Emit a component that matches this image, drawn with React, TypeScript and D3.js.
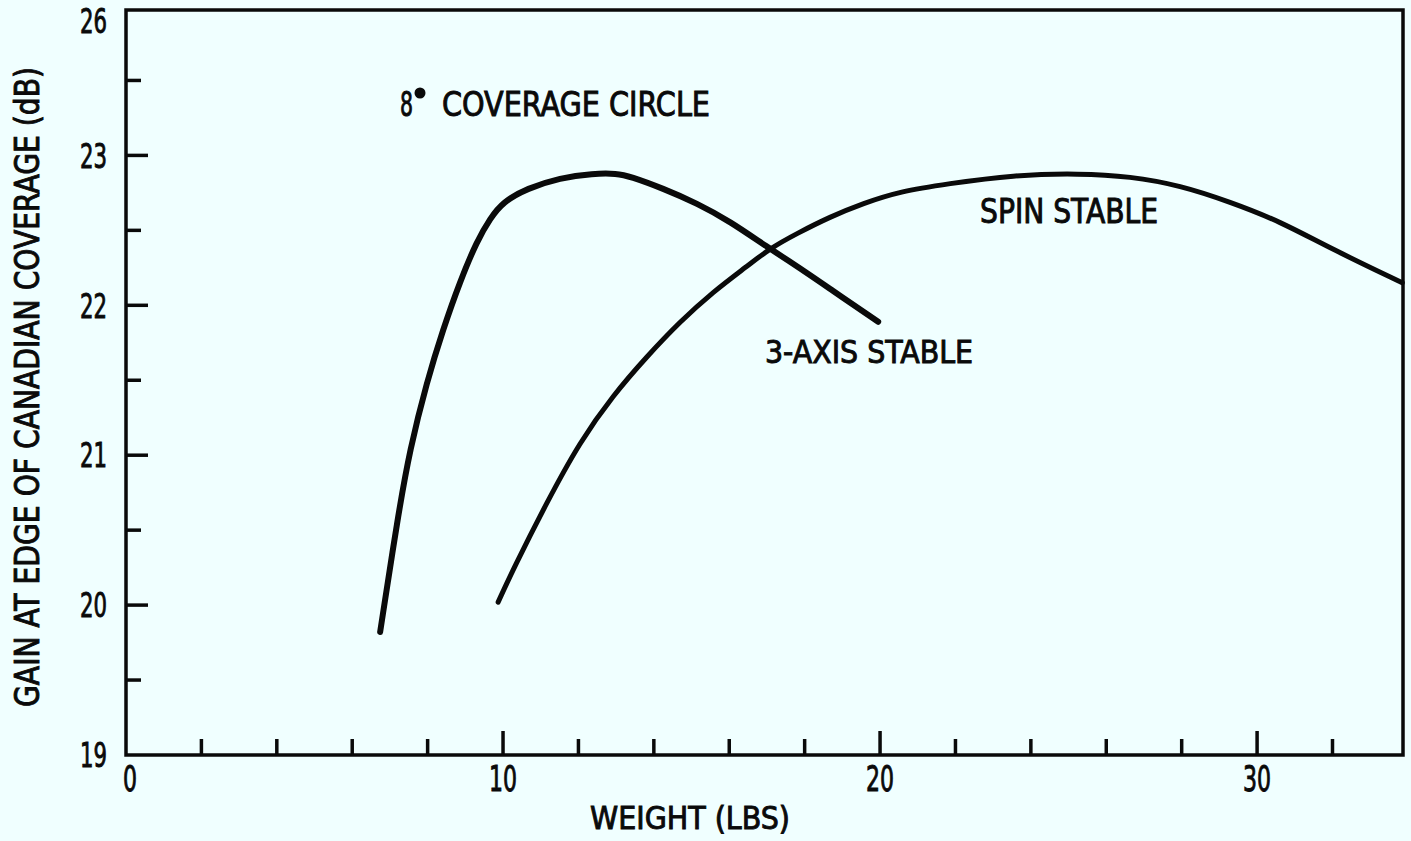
import React from "react";
import * as d3 from "d3";

// ---- data ----
const threeAxisWeight = [6.74, 7.21, 7.53, 7.98, 8.41, 8.86, 9.31, 9.66, 10.0, 10.64, 11.51, 12.39, 13.02, 13.37, 14.24, 15.15, 16.02, 17.0, 17.8, 18.67, 19.95];
const threeAxisGain = [19.82, 20.59, 21.04, 21.49, 21.84, 22.16, 22.43, 22.58, 22.69, 22.78, 22.85, 22.88, 22.88, 22.86, 22.78, 22.68, 22.56, 22.39, 22.26, 22.11, 21.89];

const spinWeight = [9.87, 10.27, 11.17, 12.04, 12.92, 13.82, 14.69, 15.57, 16.47, 17.08, 17.8, 18.67, 19.55, 20.53, 21.78, 23.53, 25.3, 26.63, 27.96, 29.28, 30.61, 31.94, 33.85];
const spinGain = [20.02, 20.24, 20.69, 21.09, 21.4, 21.66, 21.89, 22.09, 22.26, 22.38, 22.48, 22.59, 22.68, 22.76, 22.81, 22.87, 22.88, 22.86, 22.8, 22.69, 22.56, 22.38, 22.15];

const xTickValues = [0, 10, 20, 30];
const xTickLabels = ["0", "10", "20", "30"];
const xMinorTicks = [2, 4, 6, 8, 12, 14, 16, 18, 22, 24, 26, 28, 32];

const yTickValues = [19, 20, 21, 22, 23, 23.9];
const yTickLabels = ["19", "20", "21", "22", "23", "26"];
const yMajorTicks = [20, 21, 22, 23];
const yMinorTicks = [19.5, 20.5, 21.5, 22.5, 23.5];

const X_MAX = 33.87;
const Y_MIN = 19;
const Y_MAX = 23.97;

const W = 1411;
const H = 841;
const FONT = "'Liberation Sans Narrow', 'DejaVu Sans Condensed', 'Liberation Sans', Arial, sans-serif";
const INK = "#0a0a0a";
const BG = "#f0ffff";
const TEXT_STROKE = 0.9;

export default function App() {
  const x = d3.scaleLinear().domain([0, X_MAX]).range([126, 1403]);
  const y = d3.scaleLinear().domain([Y_MIN, Y_MAX]).range([755, 10]);

  const line = d3
    .line<[number, number]>()
    .x((d) => x(d[0]))
    .y((d) => y(d[1]))
    .curve(d3.curveBasis);

  const threeAxis = d3.zip(threeAxisWeight, threeAxisGain) as [number, number][];
  const spin = d3.zip(spinWeight, spinGain) as [number, number][];

  const textProps = { fill: INK, stroke: INK, strokeWidth: TEXT_STROKE, lengthAdjust: "spacingAndGlyphs" as const };

  return (
    <div style={{ position: "absolute", left: 0, top: 0 }}>
      <svg width={W} height={H} style={{ display: "block", background: BG }} fontFamily={FONT}>
        <rect x={0} y={0} width={W} height={H} fill={BG} />

        {/* frame */}
        <rect
          x={x(0)}
          y={y(Y_MAX)}
          width={x(X_MAX) - x(0)}
          height={y(Y_MIN) - y(Y_MAX)}
          fill="none"
          stroke={INK}
          strokeWidth={3.5}
        />

        {/* x ticks */}
        {xTickValues.filter((v) => v > 0).map((v) => (
          <line key={"xm" + v} x1={x(v)} x2={x(v)} y1={y(Y_MIN)} y2={y(Y_MIN) - 24} stroke={INK} strokeWidth={3.5} />
        ))}
        {xMinorTicks.map((v) => (
          <line key={"xn" + v} x1={x(v)} x2={x(v)} y1={y(Y_MIN)} y2={y(Y_MIN) - 16} stroke={INK} strokeWidth={3.5} />
        ))}
        {xTickValues.map((v, i) => (
          <text
            key={"xl" + v}
            x={x(v) + (v === 0 ? 4 : 0)}
            y={791}
            fontSize={35}
            textAnchor="middle"
            textLength={xTickLabels[i].length * 14}
            {...textProps}
          >
            {xTickLabels[i]}
          </text>
        ))}

        {/* y ticks */}
        {yMajorTicks.map((v) => (
          <line key={"ym" + v} x1={x(0)} x2={x(0) + 22} y1={y(v)} y2={y(v)} stroke={INK} strokeWidth={3.5} />
        ))}
        {yMinorTicks.map((v) => (
          <line key={"yn" + v} x1={x(0)} x2={x(0) + 15} y1={y(v)} y2={y(v)} stroke={INK} strokeWidth={3.5} />
        ))}
        {yTickValues.map((v, i) => (
          <text
            key={"yl" + v}
            x={107}
            y={y(v)}
            dy="0.36em"
            fontSize={34}
            textAnchor="end"
            textLength={yTickLabels[i].length * 13.5}
            {...textProps}
          >
            {yTickLabels[i]}
          </text>
        ))}

        {/* curves */}
        <path d={line(threeAxis) || ""} fill="none" stroke={INK} strokeWidth={6} strokeLinecap="round" strokeLinejoin="round" />
        <path d={line(spin) || ""} fill="none" stroke={INK} strokeWidth={5} strokeLinecap="round" strokeLinejoin="round" />

        {/* annotations */}
        <text x={400} y={116} fontSize={33} textLength={13} {...textProps}>8</text>
        <circle cx={420} cy={93} r={5.5} fill={INK} />
        <text x={442} y={116} fontSize={33} textLength={268} {...textProps}>
          COVERAGE CIRCLE
        </text>
        <text x={765} y={363} fontSize={32} textLength={208} {...textProps}>
          3-AXIS STABLE
        </text>
        <text x={980} y={223} fontSize={33} textLength={178} {...textProps}>
          SPIN STABLE
        </text>

        {/* axis titles */}
        <text x={590} y={829} fontSize={32} textLength={200} {...textProps}>
          WEIGHT  (LBS)
        </text>
        <text
          transform="translate(39,387) rotate(-90)"
          fontSize={33}
          textAnchor="middle"
          textLength={640}
          {...textProps}
        >
          GAIN AT EDGE OF CANADIAN COVERAGE  (dB)
        </text>
      </svg>
    </div>
  );
}
